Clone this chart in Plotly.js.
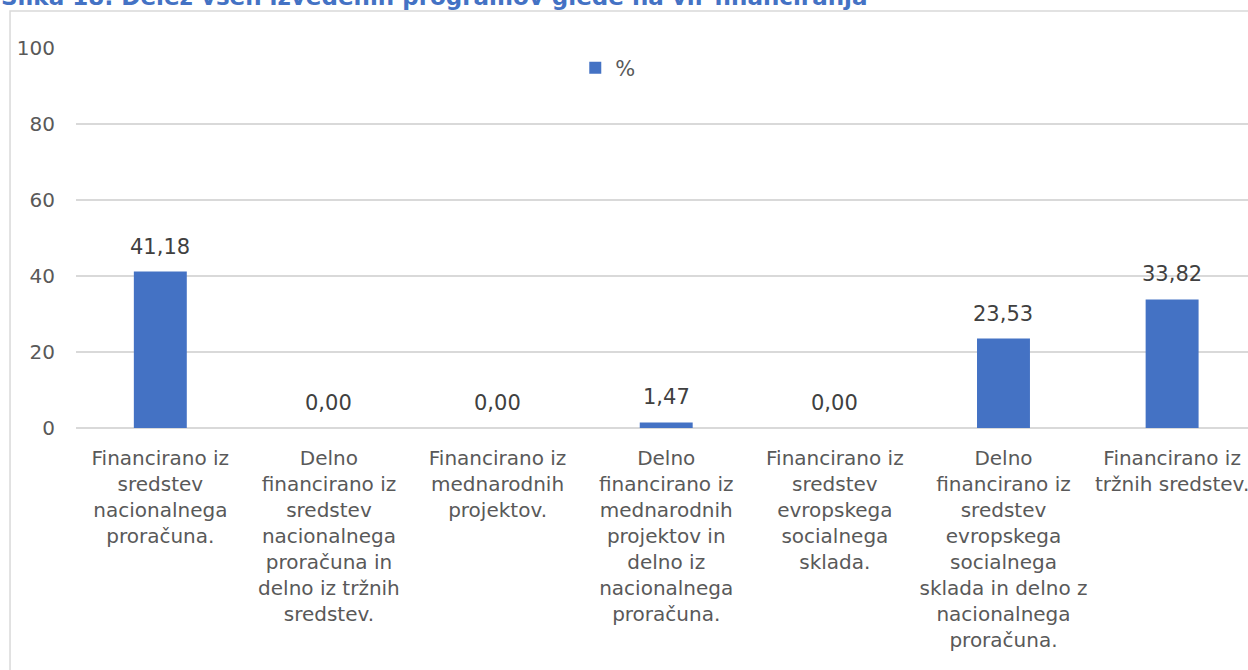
<!DOCTYPE html>
<html>
<head>
<meta charset="utf-8">
<script src="https://cdn.plot.ly/plotly-3.0.1.min.js"></script>
<style>
html,body{margin:0;padding:0;background:#fff;overflow:hidden;}
#chart{width:1248px;height:670px;}
</style>
</head>
<body>
<div id="chart"></div>
<script>
var chartTitle = "Slika 18: Delež vseh izvedenih programov glede na vir financiranja";
var seriesName = "%";
var categories = [
  "Financirano iz sredstev nacionalnega proračuna.",
  "Delno financirano iz sredstev nacionalnega proračuna in delno iz tržnih sredstev.",
  "Financirano iz mednarodnih projektov.",
  "Delno financirano iz mednarodnih projektov in delno iz nacionalnega proračuna.",
  "Financirano iz sredstev evropskega socialnega sklada.",
  "Delno financirano iz sredstev evropskega socialnega sklada in delno z nacionalnega proračuna.",
  "Financirano iz tržnih sredstev."
];
var tickLabels = [
  "Financirano iz<br>sredstev<br>nacionalnega<br>proračuna.",
  "Delno<br>financirano iz<br>sredstev<br>nacionalnega<br>proračuna in<br>delno iz tržnih<br>sredstev.",
  "Financirano iz<br>mednarodnih<br>projektov.",
  "Delno<br>financirano iz<br>mednarodnih<br>projektov in<br>delno iz<br>nacionalnega<br>proračuna.",
  "Financirano iz<br>sredstev<br>evropskega<br>socialnega<br>sklada.",
  "Delno<br>financirano iz<br>sredstev<br>evropskega<br>socialnega<br>sklada in delno z<br>nacionalnega<br>proračuna.",
  "Financirano iz<br>tržnih sredstev."
];
var values = [41.18, 0.00, 0.00, 1.47, 0.00, 23.53, 33.82];
var yTicks = [0, 20, 40, 60, 80, 100];

var FONT = "DejaVu Sans, Verdana, sans-serif";

var trace = {
  type: "bar",
  x: categories,
  y: values,
  name: seriesName,
  marker: {color: "#4472c4"},
  hoverinfo: "x+y"
};

var annotations = values.map(function (v, i) {
  return {
    x: categories[i], y: v, xref: "x", yref: "y",
    text: v.toFixed(2).replace(".", ","),
    showarrow: false, yanchor: "bottom", yshift: 11,
    font: {family: FONT, size: 21, color: "#404040"}
  };
});
annotations.push({
  xref: "paper", yref: "paper", x: -0.066, y: 1.0947,
  xanchor: "left", yanchor: "bottom", showarrow: false,
  text: chartTitle,
  font: {family: FONT, size: 23, color: "#4472c4", weight: "bold"}
});

var layout = {
  width: 1248, height: 670,
  margin: {l: 76, r: 0, t: 48, b: 242, pad: 0},
  paper_bgcolor: "#ffffff", plot_bgcolor: "#ffffff",
  bargap: 0.686,
  showlegend: true,
  legend: {
    x: 0.426, y: 0.947, xanchor: "left", yanchor: "middle",
    orientation: "h", bgcolor: "rgba(0,0,0,0)",
    font: {family: FONT, size: 21, color: "#595959"}
  },
  xaxis: {
    type: "category",
    range: [-0.5, 6.45],
    tickvals: categories, ticktext: tickLabels,
    showgrid: false, ticks: "", showline: false, zeroline: false,
    ticklabelstandoff: 16,
    tickfont: {family: FONT, size: 20, color: "#595959"},
    fixedrange: true
  },
  yaxis: {
    range: [0, 100],
    tickvals: yTicks,
    showgrid: true, gridcolor: "#d9d9d9", gridwidth: 1.5,
    zeroline: true, zerolinecolor: "#d9d9d9", zerolinewidth: 1.5,
    showline: false, ticks: "",
    ticklabelstandoff: 20,
    tickfont: {family: FONT, size: 20, color: "#595959"},
    fixedrange: true
  },
  shapes: [{
    type: "rect", xref: "paper", yref: "paper",
    x0: -0.0563, x1: 1.3, y0: -1, y1: 1.0974,
    line: {color: "#d9d9d9", width: 1.5}, fillcolor: "rgba(0,0,0,0)",
    layer: "below"
  }],
  annotations: annotations
};

Plotly.newPlot("chart", [trace], layout, {displayModeBar: false, staticPlot: true});
</script>
</body>
</html>
